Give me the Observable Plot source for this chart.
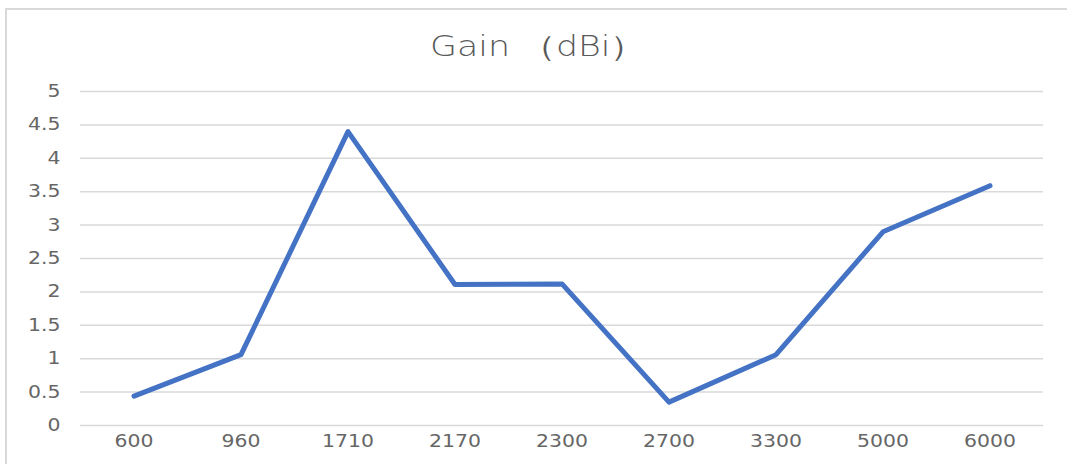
<!DOCTYPE html>
<html>
<head>
<meta charset="utf-8">
<script src="https://cdn.jsdelivr.net/npm/d3@7"></script>
<script src="https://cdn.jsdelivr.net/npm/@observablehq/plot@0.6"></script>
<style>
  html, body { margin: 0; padding: 0; background: #fff; }
  #wrap { position: relative; width: 1067px; height: 464px; overflow: hidden; font-family: "DejaVu Sans", sans-serif; }
  #frame { position: absolute; left: 5px; top: 8px; right: -10px; bottom: -10px; border-top: 2px solid #d9d9d9; border-left: 2px solid #d9d9d9; pointer-events: none; }
  #title { position: absolute; left: 4px; top: 0; width: 1067px; height: 70px; text-align: center; line-height: 92px; font-size: 29px; color: #595959; font-weight: 200; }
  #title span { display: inline-block; transform: scaleX(1.2); }
  #chart { position: absolute; left: 0; top: 70px; }
</style>
</head>
<body>
<div id="wrap">
  <div id="frame"></div>
  <div id="title"><span>Gain （dBi）</span></div>
  <div id="chart"></div>
</div>
<script>
const categories = ["600", "960", "1710", "2170", "2300", "2700", "3300", "5000", "6000"];
const gain = [0.44, 1.06, 4.40, 2.11, 2.12, 0.35, 1.06, 2.90, 3.59];
const yTicks = [0, 0.5, 1, 1.5, 2, 2.5, 3, 3.5, 4, 4.5, 5];

const data = categories.map((c, i) => ({ freq: c, gain: gain[i] }));

const chart = Plot.plot({
  width: 1067,
  height: 394,
  marginLeft: 80,
  marginRight: 24,
  marginTop: 21,
  marginBottom: 39,
  style: { fontFamily: '"DejaVu Sans", sans-serif', fontSize: "17px", color: "#595959", background: "transparent", overflow: "visible" },
  x: { type: "band", domain: categories, padding: 0, label: null },
  y: { domain: [0, 5], label: null },
  marks: [
    Plot.ruleY(yTicks, { stroke: "#d9d9d9", strokeWidth: 1.5, strokeOpacity: 1 }),
    Plot.axisY(yTicks, { tickSize: 0, tickPadding: 20, label: null, fill: "#666", fontSize: 17, tickFormat: d => String(d) }),
    Plot.axisX({ tickSize: 0, tickPadding: 9, label: null, fill: "#666", fontSize: 17 }),
    Plot.line(data, { x: "freq", y: "gain", stroke: "#4472C4", strokeWidth: 5, strokeLinejoin: "round", strokeLinecap: "round" })
  ]
});
document.getElementById("chart").appendChild(chart);

// widen tick labels horizontally to match the reference's stretched glyphs
chart.querySelectorAll("g[aria-label^='y-axis'] text, g[aria-label^='x-axis'] text").forEach(t => {
  const len = t.getComputedTextLength();
  if (len > 0) {
    t.setAttribute("textLength", (len * 1.2).toFixed(1));
    t.setAttribute("lengthAdjust", "spacingAndGlyphs");
  }
});
</script>
</body>
</html>
